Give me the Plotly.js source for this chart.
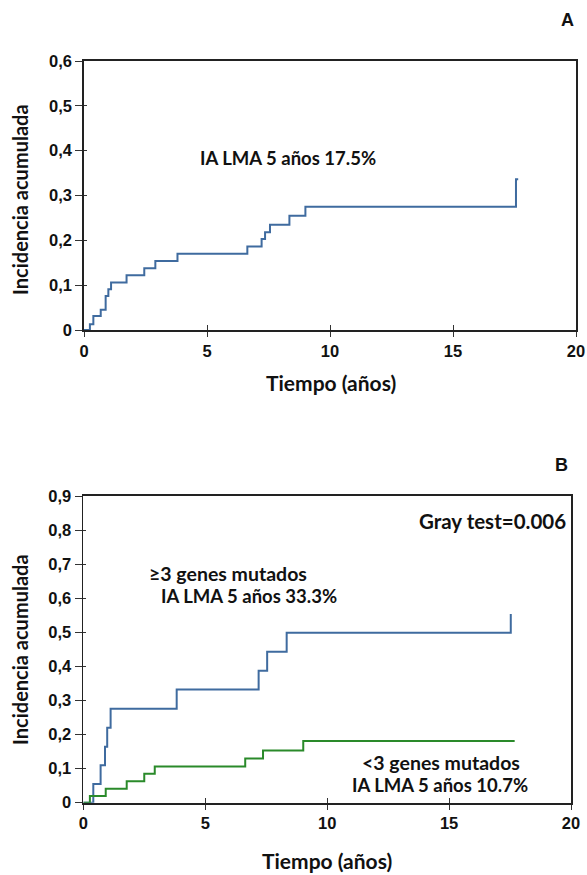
<!DOCTYPE html>
<html>
<head>
<meta charset="utf-8">
<script src="https://cdn.plot.ly/plotly-3.0.1.min.js"></script>
<style>html,body{margin:0;padding:0;background:#fff;}#chart{width:587px;height:875px;}</style>
</head>
<body>
<div id="chart"></div>
<script>
// Panel A: cumulative incidence (overall)
const timeA = [0, 0.24, 0.38, 0.68, 0.88, 0.99, 1.1, 1.73, 2.45, 2.9, 3.8, 6.64, 7.22, 7.36, 7.56, 8.35, 9.0, 17.56, 17.65];
const incA  = [0, 0.013, 0.031, 0.045, 0.076, 0.091, 0.106, 0.122, 0.138, 0.154, 0.170, 0.186, 0.203, 0.218, 0.235, 0.255, 0.275, 0.336, 0.336];
// Panel B: >=3 mutated genes
const timeHigh = [0, 0.41, 0.71, 0.89, 0.98, 1.12, 3.83, 7.19, 7.54, 8.34, 17.53];
const incHigh  = [0, 0.055, 0.11, 0.164, 0.22, 0.276, 0.332, 0.387, 0.443, 0.499, 0.554];
// Panel B: <3 mutated genes
const timeLow = [0, 0.27, 0.92, 1.78, 2.5, 2.93, 6.64, 7.37, 9.02, 17.69];
const incLow  = [0, 0.02, 0.041, 0.063, 0.085, 0.106, 0.130, 0.153, 0.181, 0.181];

const xTicks = [0, 5, 10, 15, 20];
const yTicksA = [0, 0.1, 0.2, 0.3, 0.4, 0.5, 0.6];
const yTicksB = [0, 0.1, 0.2, 0.3, 0.4, 0.5, 0.6, 0.7, 0.8, 0.9];

const W = 587, H = 875;
const fx = px => px / W;
const fy = py => 1 - py / H;

const blue = '#3f6b9f';
const green = '#2a8a2a';
const tickFont = {family: '"Liberation Sans", Arial, sans-serif', size: 16.5, color: '#111', weight: 'bold'};
const titleFont = {family: 'Lato, sans-serif', size: 20, color: '#111', weight: 'bold'};
const titleFontH = {family: 'Lato, sans-serif', size: 21, color: '#111', weight: 'bold'};
const letterFont = {family: '"Liberation Sans", Arial, sans-serif', size: 18, color: '#111', weight: 'bold'};
const noteFont = {family: 'Lato, sans-serif', size: 18.5, color: '#111', weight: 'bold'};
const noteFontW = {family: 'Lato, sans-serif', size: 20.5, color: '#111', weight: 'bold'};
const noteFontG = {family: 'Lato, sans-serif', size: 19.5, color: '#111', weight: 'bold'};

const traces = [
  {x: timeA, y: incA, xaxis: 'x', yaxis: 'y', mode: 'lines', line: {shape: 'hv', color: blue, width: 2}, hoverinfo: 'skip'},
  {x: timeHigh, y: incHigh, xaxis: 'x2', yaxis: 'y2', mode: 'lines', line: {shape: 'hv', color: blue, width: 2}, hoverinfo: 'skip'},
  {x: timeLow, y: incLow, xaxis: 'x2', yaxis: 'y2', mode: 'lines', line: {shape: 'hv', color: green, width: 2}, hoverinfo: 'skip'},
  // invisible traces so the overlay axes (inner tick halves) are drawn
  {x: [0], y: [0], xaxis: 'x3', yaxis: 'y3', mode: 'markers', marker: {opacity: 0}, hoverinfo: 'skip'},
  {x: [0], y: [0], xaxis: 'x4', yaxis: 'y4', mode: 'markers', marker: {opacity: 0}, hoverinfo: 'skip'}
];

function xAx(domain, anchor, extra) {
  return Object.assign({
    domain: domain, anchor: anchor, range: [0, 20], tickvals: xTicks,
    showgrid: false, zeroline: false, showline: true, linecolor: '#222', linewidth: 1.8,
    ticks: 'outside', ticklen: 5, tickwidth: 1, tickcolor: '#333',
    tickfont: tickFont, fixedrange: true
  }, extra || {});
}
function yAx(domain, anchor, range, vals, extra) {
  return Object.assign({
    domain: domain, anchor: anchor, range: range, tickvals: vals,
    showgrid: false, zeroline: false, showline: true, linecolor: '#222', linewidth: 1.8,
    ticks: 'outside', ticklen: 7, tickwidth: 1, tickcolor: '#333',
    tickfont: tickFont, fixedrange: true
  }, extra || {});
}

const domAx = [fx(84), fx(576)], domAy = [fy(330), fy(61)];
const domBx = [fx(83.3), fx(571)], domBy = [fy(802.7), fy(496)];

function note(text, px, py, font) {
  return {text: text, xref: 'paper', yref: 'paper', x: fx(px), y: fy(py), showarrow: false,
          font: font || noteFont, xanchor: 'center', yanchor: 'middle'};
}

const layout = {
  width: W, height: H,
  margin: {l: 0, r: 0, t: 0, b: 0},
  paper_bgcolor: '#fff', plot_bgcolor: '#fff',
  showlegend: false,
  separators: ',.',
  xaxis: xAx(domAx, 'y', {mirror: true}),
  yaxis: yAx(domAy, 'x', [0, 0.6], yTicksA, {mirror: true}),
  xaxis2: xAx(domBx, 'y2', {mirror: true}),
  yaxis2: yAx(domBy, 'x2', [0, 0.9], yTicksB, {mirror: true}),
  xaxis3: xAx(domAx, 'y3', {overlaying: 'x', ticks: 'inside', ticklen: 5, showticklabels: false, showline: false}),
  yaxis3: yAx(domAy, 'x3', [0, 0.6], yTicksA, {overlaying: 'y', ticks: 'inside', ticklen: 3, showticklabels: false, showline: false}),
  xaxis4: xAx(domBx, 'y4', {overlaying: 'x2', ticks: 'inside', ticklen: 5, showticklabels: false, showline: false}),
  yaxis4: yAx(domBy, 'x4', [0, 0.9], yTicksB, {overlaying: 'y2', ticks: 'inside', ticklen: 3, showticklabels: false, showline: false}),
  annotations: [
    note('A', 567, 20, letterFont),
    note('B', 561, 465, letterFont),
    Object.assign(note('Incidencia acumulada', 20, 200, titleFont), {textangle: -90}),
    note('Tiempo (años)', 331, 382, titleFontH),
    Object.assign(note('Incidencia acumulada', 20, 650, titleFont), {textangle: -90}),
    note('Tiempo (años)', 327, 860, titleFontH),
    note('IA LMA 5 años 17.5%', 288, 158),
    note('Gray test=0.006', 492, 521, noteFontW),
    note('≥3 genes mutados', 228, 573, noteFontG),
    note('IA LMA 5 años 33.3%', 249, 596),
    note('<3 genes mutados', 441, 762, noteFontG),
    note('IA LMA 5 años 10.7%', 440, 785)
  ]
};

Plotly.newPlot('chart', traces, layout, {staticPlot: true, displayModeBar: false});
</script>
</body>
</html>
